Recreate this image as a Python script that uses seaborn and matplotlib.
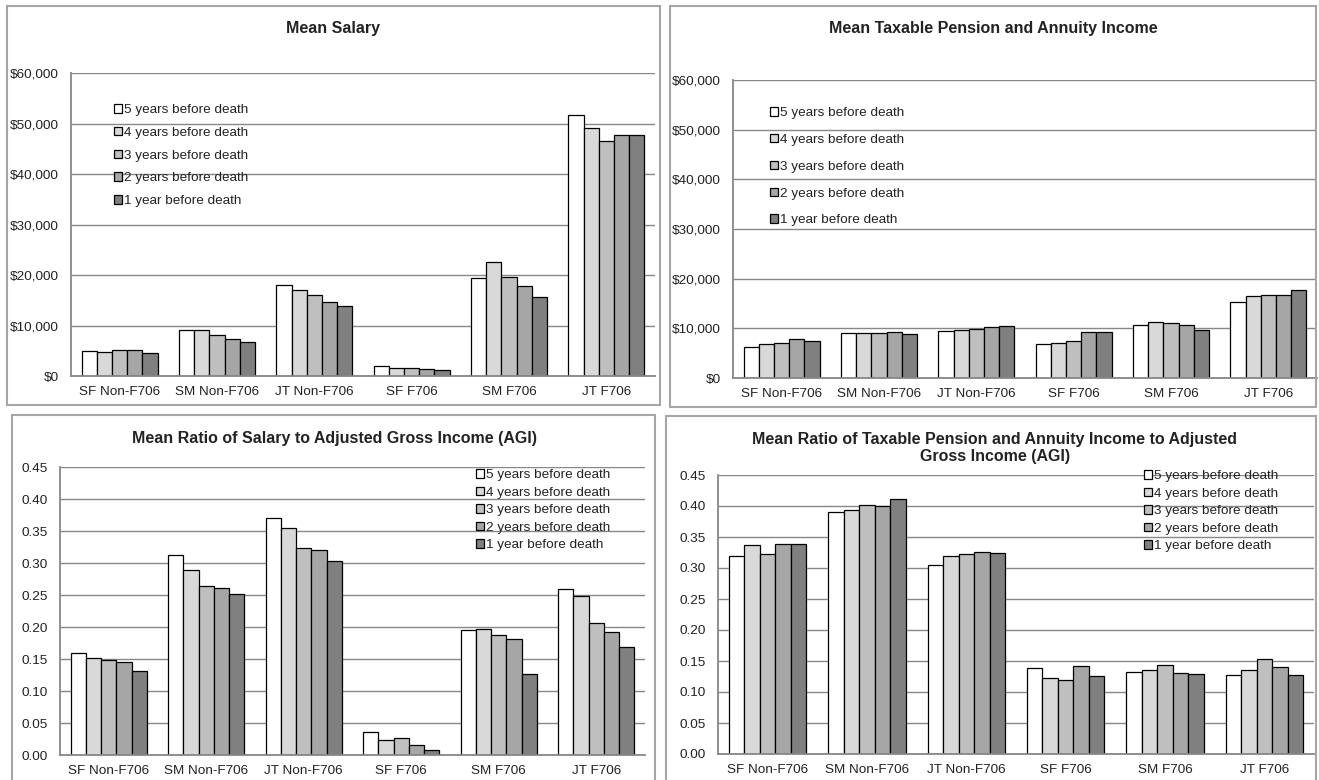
import matplotlib
matplotlib.use('Agg')
import matplotlib.pyplot as plt
from matplotlib.patches import Rectangle
from matplotlib.ticker import FuncFormatter, MultipleLocator
import pandas as pd
import seaborn as sns

# --- data ---
groups = ['SF Non-F706', 'SM Non-F706', 'JT Non-F706', 'SF F706', 'SM F706', 'JT F706']
periods = ['5 years before death', '4 years before death', '3 years before death',
           '2 years before death', '1 year before death']

# one row per group, one value per period
salary = [[4900, 4750, 5050, 5050, 4600],
          [9200, 9100, 8100, 7400, 6800],
          [18000, 17050, 16000, 14650, 13800],
          [2000, 1650, 1500, 1400, 1100],
          [19450, 22600, 19650, 17850, 15600],
          [51600, 49200, 46450, 47650, 47650]]
pension = [[6300, 6850, 6950, 7900, 7450],
           [9000, 9050, 9050, 9250, 8850],
           [9400, 9600, 9900, 10200, 10400],
           [6900, 7100, 7350, 9300, 9300],
           [10650, 11200, 11050, 10600, 9700],
           [15350, 16500, 16700, 16800, 17750]]
salary_ratio = [[0.160, 0.151, 0.148, 0.146, 0.131],
                [0.312, 0.289, 0.264, 0.261, 0.252],
                [0.371, 0.355, 0.323, 0.321, 0.303],
                [0.036, 0.023, 0.026, 0.015, 0.008],
                [0.195, 0.197, 0.188, 0.182, 0.126],
                [0.260, 0.249, 0.207, 0.192, 0.168]]
pension_ratio = [[0.319, 0.337, 0.323, 0.339, 0.338],
                 [0.391, 0.394, 0.402, 0.400, 0.411],
                 [0.305, 0.319, 0.322, 0.326, 0.324],
                 [0.138, 0.122, 0.119, 0.142, 0.126],
                 [0.132, 0.136, 0.143, 0.130, 0.129],
                 [0.127, 0.135, 0.154, 0.140, 0.128]]

titles = ['Mean Salary',
          'Mean Taxable Pension and Annuity Income',
          'Mean Ratio of Salary to Adjusted Gross Income (AGI)',
          'Mean Ratio of Taxable Pension and Annuity Income to Adjusted\nGross Income (AGI)']

colors = ['#ffffff', '#d9d9d9', '#bfbfbf', '#a6a6a6', '#808080']

sns.set_style('white')
plt.rcParams['font.family'] = ['Liberation Sans', 'DejaVu Sans']
plt.rcParams['axes.unicode_minus'] = False

W, H = 1319, 780
fig = plt.figure(figsize=(W / 100, H / 100), dpi=100)


def px_rect(x0, y0, x1, y1):
    # pixel box (top-left origin) -> figure fraction [l, b, w, h]
    return [x0 / W, 1 - y1 / H, (x1 - x0) / W, (y1 - y0) / H]


def long_df(rows):
    recs = []
    for g, vals in zip(groups, rows):
        for p, v in zip(periods, vals):
            recs.append({'group': g, 'period': p, 'value': v})
    return pd.DataFrame(recs)


grid_col = '#878787'

# panel frames: (x0, y0, x1, y1) in pixels
panels = [(7, 6, 660, 405), (670, 6, 1316, 407),
          (12, 415, 655, 800), (666, 416, 1316, 800)]
axes_boxes = [(71, 73, 655, 376), (733, 80, 1317, 378),
              (60, 467, 645, 755), (718, 475, 1314, 754)]
title_pos = [(333, 28), (993, 28), (335, 438), (995, 448)]
legend_pos = [(114, 104), (770, 107), (476, 469), (1144, 470)]
legend_space = [0.8, 1.1, 0.41, 0.41]
datasets = [salary, pension, salary_ratio, pension_ratio]

for i in range(4):
    x0, y0, x1, y1 = panels[i]
    fig.add_artist(Rectangle((x0 / W, 1 - y1 / H), (x1 - x0) / W, (y1 - y0) / H,
                             transform=fig.transFigure, fill=False,
                             edgecolor='#a6a6a6', linewidth=1.5))

    ax = fig.add_axes(px_rect(*axes_boxes[i]))
    df = long_df(datasets[i])
    sns.barplot(data=df, x='group', y='value', hue='period',
                order=groups, hue_order=periods, palette=colors,
                saturation=1, edgecolor='black', linewidth=0.9,
                width=0.78, errorbar=None, ax=ax)

    if i < 2:
        ax.set_ylim(0, 60000)
        ax.yaxis.set_major_locator(MultipleLocator(10000))
        ax.yaxis.set_major_formatter(FuncFormatter(lambda v, p: f'${v:,.0f}'))
    else:
        ax.set_ylim(0, 0.45)
        ax.yaxis.set_major_locator(MultipleLocator(0.05))
        ax.yaxis.set_major_formatter(FuncFormatter(lambda v, p: f'{v:.2f}'))
    ax.set_xlim(-0.5, 5.5)
    ax.set_xlabel('')
    ax.set_ylabel('')

    ax.grid(axis='y', color=grid_col, linewidth=1.0)
    ax.set_axisbelow(True)
    for s in ['top', 'right']:
        ax.spines[s].set_visible(False)
    for s in ['left', 'bottom']:
        ax.spines[s].set_color(grid_col)
        ax.spines[s].set_linewidth(1.3)
    ax.tick_params(axis='y', length=0, pad=9, labelsize=9.7, colors='#222222')
    ax.tick_params(axis='x', length=0, pad=7, labelsize=9.7, colors='#222222')

    tx, ty = title_pos[i]
    fig.text(tx / W, 1 - ty / H, titles[i], ha='center', va='center',
             fontsize=11.5, fontweight='bold', color='#222222', linespacing=1.15)

    handles, labels = ax.get_legend_handles_labels()
    lx, ly = legend_pos[i]
    ax.legend(handles, labels, loc='upper left',
              bbox_to_anchor=(lx / W, 1 - ly / H), bbox_transform=fig.transFigure,
              frameon=False, borderpad=0, borderaxespad=0,
              handlelength=0.6, handleheight=0.6, handletextpad=0.15,
              labelspacing=legend_space[i], fontsize=9.7, labelcolor='#222222')

fig.savefig('out.png', dpi=100)
